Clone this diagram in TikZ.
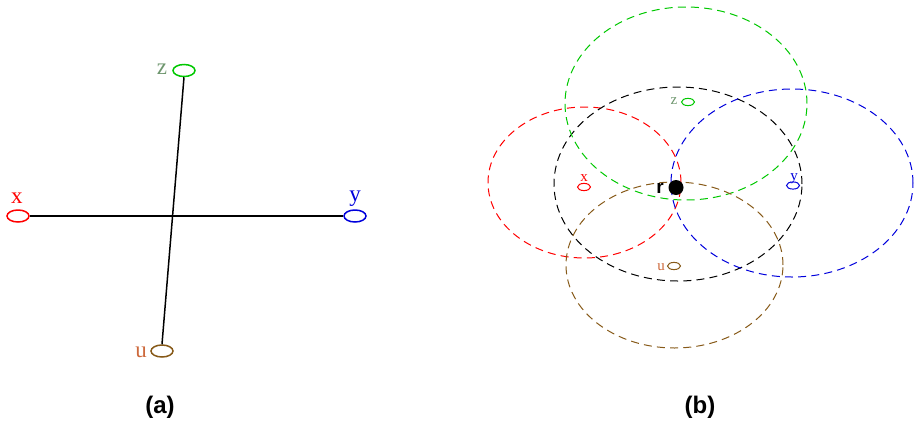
\documentclass[tikz,border=0pt]{standalone}
\usepackage{fontspec}
\setmainfont{Liberation Serif}
\setsansfont{Liberation Sans}
\usetikzlibrary{shapes.geometric}
\definecolor{zgreen}{RGB}{0,200,0}
\definecolor{zlabel}{RGB}{110,150,110}
\definecolor{ubrown}{RGB}{135,90,25}
\definecolor{ulabel}{RGB}{205,105,60}
\definecolor{yblue}{RGB}{0,0,220}
\tikzset{
  ptnode/.style={ellipse,draw,line width=0.75pt,minimum width=11pt,minimum height=6pt,inner sep=0pt},
  ptsmall/.style={ellipse,draw,line width=0.5pt,minimum width=6.5pt,minimum height=3.6pt,inner sep=0pt},
  lbl/.style={font=\fontsize{11.5}{12}\selectfont,anchor=base,inner sep=0pt},
  lblsmall/.style={font=\fontsize{7.5}{8}\selectfont,anchor=base,inner sep=0pt},
  rng/.style={dashed,dash pattern=on 4pt off 2.6pt,line width=0.5pt},
  captext/.style={font=\sffamily\bfseries\fontsize{12}{14}\selectfont}
}
\begin{document}
\begin{tikzpicture}[x=0.5pt,y=-0.5pt]
\useasboundingbox (0,0) rectangle (917,424);
% (a)
\node[ptnode,red] (x) at (18,216) {};
\node[ptnode,yblue] (y) at (355,216) {};
\node[ptnode,zgreen] (z) at (184,70.5) {};
\node[ptnode,ubrown] (u) at (162,351) {};
\draw[line width=0.75pt] (x) -- (y);
\draw[line width=0.75pt] (z.south) -- (u.north);
\node[lbl,red] at (17,203) {x};
\node[lbl,yblue] at (355,201) {y};
\node[lbl,zlabel] at (162,74) {z};
\node[lbl,ulabel] at (141,357) {u};
\node[captext] (capa) at (160,407) {(a)};
% (b)
\draw[rng,red] (584.5,182.5) ellipse [x radius=48.25pt,y radius=37.75pt];
\draw[rng,black] (678,184) ellipse [x radius=62pt,y radius=48.5pt];
\draw[rng,zgreen] (686,103.5) ellipse [x radius=60.5pt,y radius=48.25pt];
\draw[rng,yblue] (792,183) ellipse [x radius=60.5pt,y radius=47pt];
\draw[rng,ubrown] (674.5,265) ellipse [x radius=54.25pt,y radius=41.5pt];
\node[ptsmall,red] (bx) at (584,187) {};
\node[ptsmall,zgreen] (bz) at (688,102) {};
\node[ptsmall,yblue] (by) at (793,185.5) {};
\node[ptsmall,ubrown] (bu) at (674,266) {};
\node[lblsmall,red] at (584,181) {x};
\node[lblsmall,zlabel] at (674,104) {z};
\node[lblsmall,yblue] at (794,180) {y};
\node[lblsmall,ulabel] at (661,270) {u};
\node[circle,fill=black,minimum size=7.5pt,inner sep=0pt] (r) at (676,187.5) {};
\node[font=\sffamily\bfseries\fontsize{9.5}{10}\selectfont,anchor=base,inner sep=0pt] at (660,193) {r};
\node[captext] (capb) at (700,407) {(b)};
\end{tikzpicture}
\end{document}
